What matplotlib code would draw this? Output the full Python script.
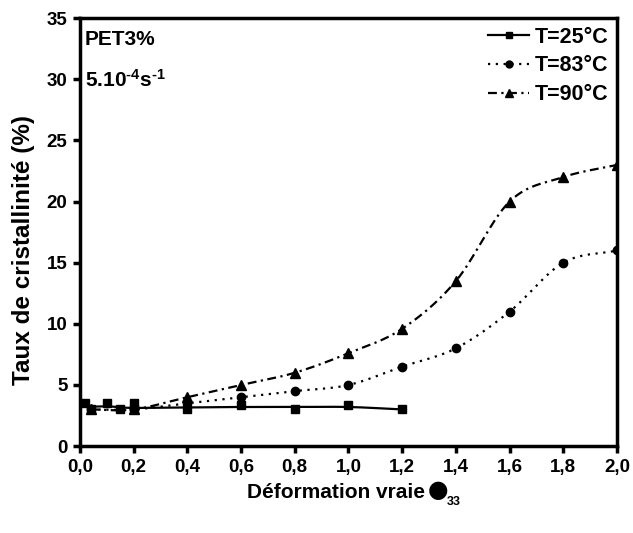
import numpy as np
import matplotlib
matplotlib.use("Agg")
import matplotlib.pyplot as plt

plt.rcParams['font.family'] = ['Liberation Sans', 'DejaVu Sans']
plt.rcParams['font.weight'] = 'bold'
plt.rcParams['mathtext.fontset'] = 'custom'
plt.rcParams['mathtext.rm'] = 'Liberation Sans:bold'
plt.rcParams['mathtext.bf'] = 'Liberation Sans:bold'
plt.rcParams['mathtext.it'] = 'Liberation Sans:bold'
plt.rcParams['mathtext.default'] = 'bf'

# data
x_25 = [0.02, 0.04, 0.10, 0.15, 0.20, 0.20, 0.40, 0.60, 0.80, 1.00, 1.20]
y_25 = [3.5, 3.0, 3.5, 3.0, 3.5, 3.0, 3.0, 3.4, 3.0, 3.4, 3.0]

x_83 = [0.04, 0.20, 0.40, 0.60, 0.80, 1.00, 1.20, 1.40, 1.60, 1.80, 2.00]
y_83 = [3.0, 3.0, 3.5, 4.0, 4.5, 5.0, 6.5, 8.0, 11.0, 15.0, 16.0]

x_90 = [0.04, 0.20, 0.40, 0.60, 0.80, 1.00, 1.20, 1.40, 1.60, 1.80, 2.00]
y_90 = [3.0, 3.0, 4.0, 5.0, 6.0, 7.6, 9.6, 13.5, 20.0, 22.0, 23.0]

labels = ["T=25°C", "T=83°C", "T=90°C"]
x_ticks = [0.0, 0.2, 0.4, 0.6, 0.8, 1.0, 1.2, 1.4, 1.6, 1.8, 2.0]
y_ticks = [0, 5, 10, 15, 20, 25, 30, 35]


def smooth(x, y, n=30):
    """Catmull-Rom curve through the points (x increasing)."""
    x = np.asarray(x, float)
    y = np.asarray(y, float)
    px = np.concatenate([[2 * x[0] - x[1]], x, [2 * x[-1] - x[-2]]])
    py = np.concatenate([[2 * y[0] - y[1]], y, [2 * y[-1] - y[-2]]])
    xs, ys = [], []
    t = np.linspace(0, 1, n)
    for i in range(1, len(px) - 2):
        for arr, out in ((px, xs), (py, ys)):
            p0, p1, p2, p3 = arr[i - 1], arr[i], arr[i + 1], arr[i + 2]
            out.extend(0.5 * (2 * p1 + (-p0 + p2) * t
                              + (2 * p0 - 5 * p1 + 4 * p2 - p3) * t ** 2
                              + (-p0 + 3 * p1 - 3 * p2 + p3) * t ** 3))
    return np.array(xs), np.array(ys)


# the 25 degC line is a smoothed trend: average duplicates, then light smoothing
ux = np.unique(x_25)
uy = np.array([np.mean([b for a, b in zip(x_25, y_25) if a == u]) for u in ux])
uy_s = uy.copy()
uy_s[1:-1] = 0.25 * uy[:-2] + 0.5 * uy[1:-1] + 0.25 * uy[2:]

fig = plt.figure(figsize=(6.33, 5.33), dpi=100)
ax = fig.add_axes([0.1264, 0.163, 0.8483, 0.803])

lw = 1.6
dot = (0, (1, 2.5))
dashdot = (0, (4, 2, 1, 2))

sx, sy = smooth(ux, uy_s)
ax.plot(sx, sy, '-', color='black', lw=lw)
ax.plot(x_25, y_25, 's', color='black', ms=5.5, ls='none')

sx, sy = smooth(x_83, y_83)
ax.plot(sx, sy, color='black', lw=lw, ls=dot)
ax.plot(x_83, y_83, 'o', color='black', ms=6, ls='none')

sx, sy = smooth(x_90, y_90)
ax.plot(sx, sy, color='black', lw=lw, ls=dashdot)
ax.plot(x_90, y_90, '^', color='black', ms=6.5, ls='none')

# legend handles with markers
h1, = ax.plot([], [], '-s', color='black', lw=lw, ms=4)
h2, = ax.plot([], [], 'o', color='black', lw=lw, ms=5, ls=dot)
h3, = ax.plot([], [], '^', color='black', lw=lw, ms=5.5, ls=dashdot)
ax.legend([h1, h2, h3], labels, loc='upper right', frameon=False,
          handlelength=1.9, handletextpad=0.25,
          labelspacing=0.36, borderaxespad=0.1, borderpad=0.3,
          prop={'weight': 'bold', 'size': 15.5})

ax.text(0.019, 32.8, "PET3%", fontsize=15, fontweight='bold',
        va='baseline')
ax.text(0.019, 29.35, r"5.10$^{\text{-4}}$s$^{\text{-1}}$", fontsize=15,
        fontweight='bold', va='baseline')

ax.set_xlim(0, 2.0)
ax.set_ylim(0, 35)
ax.set_xticks(x_ticks)
ax.set_xticklabels([("%.1f" % v).replace('.', ',') for v in x_ticks])
ax.set_yticks(y_ticks)

for s in ax.spines.values():
    s.set_linewidth(2.5)
ax.tick_params(direction='out', length=5, width=2.5, labelsize=13.5, pad=4)
for lab in ax.get_xticklabels() + ax.get_yticklabels():
    lab.set_fontweight('bold')

ax.set_ylabel("Taux de cristallinité (%)", fontsize=17.5, fontweight='bold')
ax.yaxis.set_label_coords(-0.083, 0.458)

# x label pieces: the epsilon shows as a black blob in the original
fig.text(425 / 633, 1 - 492 / 533, "Déformation vraie", fontsize=15,
         fontweight='bold', ha='right', va='center')
fig.text(428 / 633, 1 - 490 / 533, "●", fontsize=17, ha='left', va='center',
         family=['DejaVu Sans'])
fig.text(447 / 633, 1 - 502 / 533, "33", fontsize=9, fontweight='bold',
         ha='left', va='center')

fig.savefig("out.png", dpi=100)
